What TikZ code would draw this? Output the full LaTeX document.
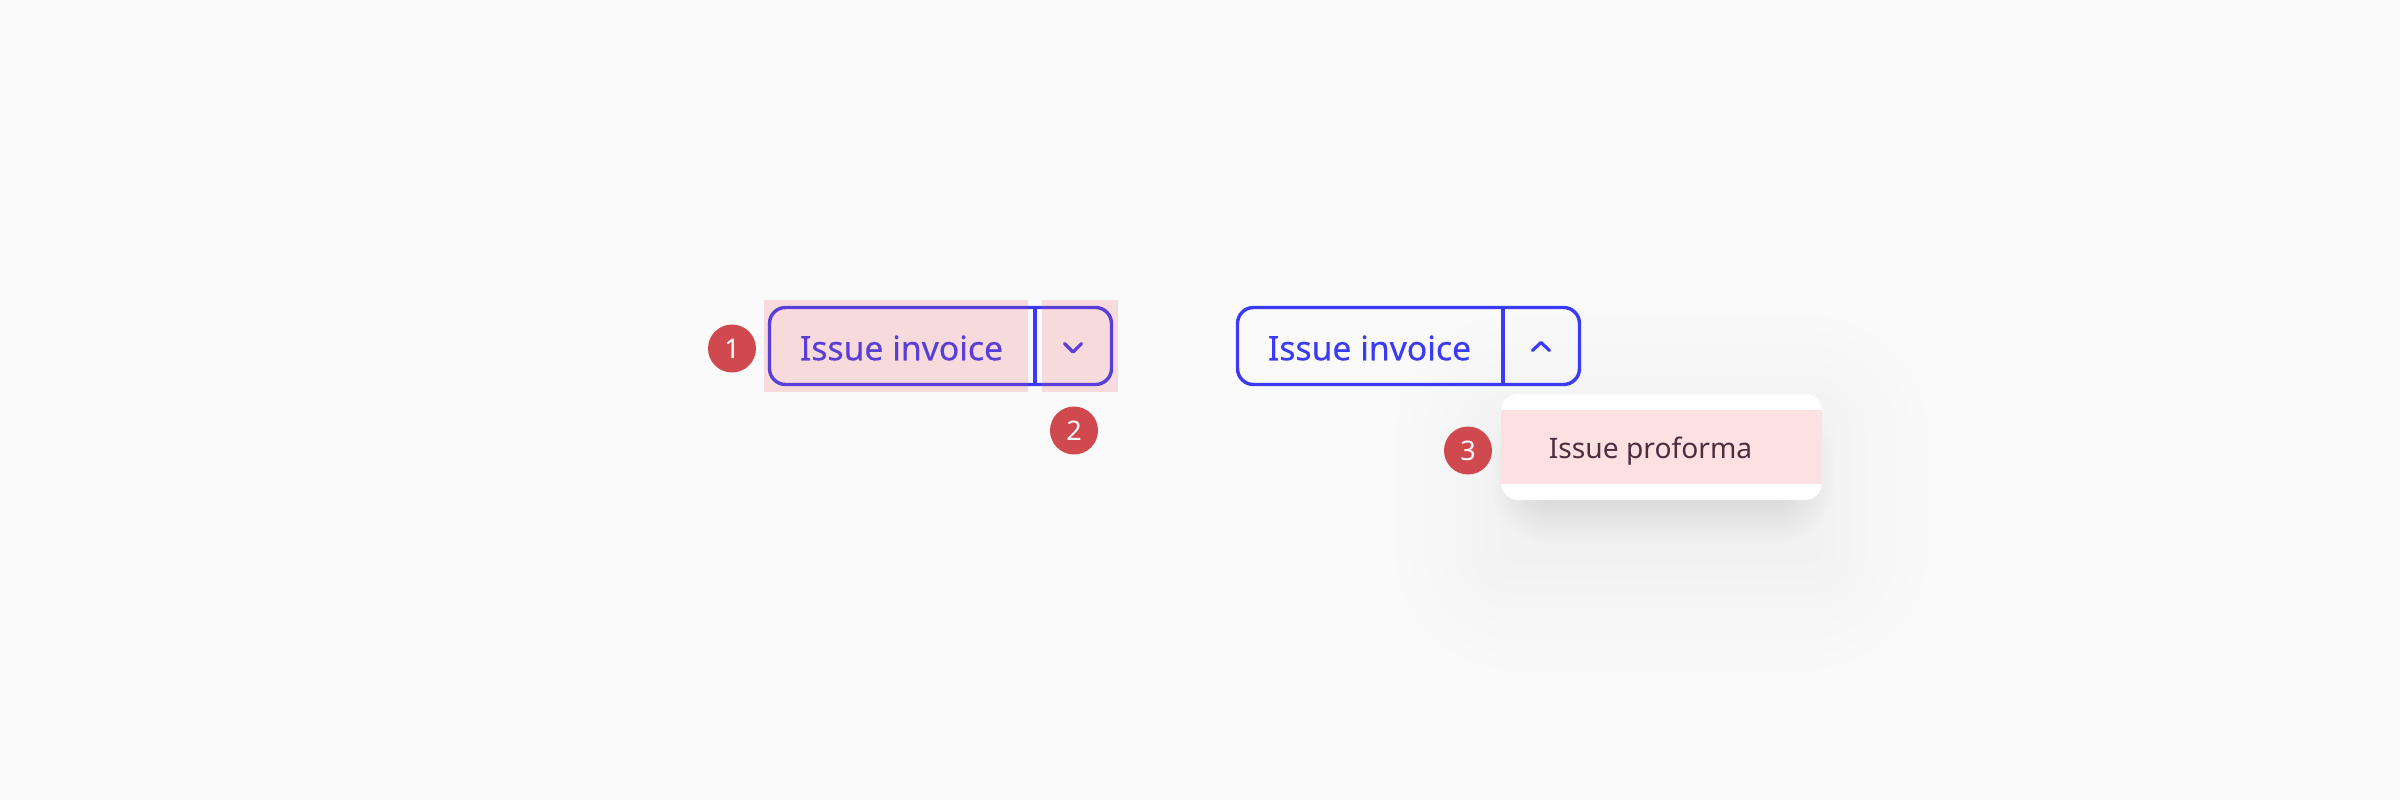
\documentclass[tikz,border=0pt]{standalone}
\usepackage{fontspec}
\setmainfont{Noto Sans}
\newfontfamily\btnfont[RawFeature={embolden=0.35}]{Noto Sans}
\usetikzlibrary{positioning}
\definecolor{pagecolor}{RGB}{250,250,250}
\definecolor{linkcolor}{RGB}{59,59,245}
\definecolor{markcolor}{RGB}{231,76,87}
\definecolor{badgecolor}{RGB}{208,73,79}
\definecolor{rowcolor}{RGB}{252,224,226}
\definecolor{rowtext}{RGB}{74,47,62}

\begin{document}
\begin{tikzpicture}[
    x=1pt, y=-1pt,
    splitbox/.style={draw=linkcolor, line width=3.4pt, rounded corners=16pt, inner sep=0pt, outer sep=0pt, minimum width=342pt, minimum height=77pt},
    btnlabel/.style={text=linkcolor, inner sep=0pt, font=\btnfont\fontsize{33.7}{36}\selectfont},
    divider/.style={draw=linkcolor, line width=3.4pt},
    chevron/.style={draw=linkcolor, line width=3.2pt, line cap=round, line join=round},
    markbox/.style={fill=markcolor, fill opacity=0.18, inner sep=0pt, outer sep=0pt, minimum height=92pt},
    badge/.style={circle, fill=badgecolor, text=white, inner sep=0pt, minimum size=48pt, font=\fontsize{27}{30}\selectfont},
    menubox/.style={fill=white, rounded corners=17pt, inner sep=0pt, minimum width=321pt, minimum height=106pt},
    menurow/.style={fill=rowcolor, inner sep=0pt, minimum width=321pt, minimum height=74pt}
]
    \fill[pagecolor] (0,0) rectangle (2400,800);
    \useasboundingbox (0,0) rectangle (2400,800);

    % soft shadow of the menu
    \foreach \d in {0,15,...,105}
        \fill[black, opacity=0.004, rounded corners={16pt+\d pt}] (1500-\d,420-\d) rectangle (1822+\d,565+\d);
    \foreach \d in {0,4,...,44}
        \fill[black, opacity=0.0075, rounded corners={16pt+\d pt}] (1535-\d,440-\d) rectangle (1790+\d,500+\d);

    % closed button
    \node[splitbox] (btnA) at (940.5,346) {};
    \coordinate (divA) at (1035,346);
    \draw[divider] (btnA.north -| divA) -- (btnA.south -| divA);
    \node[btnlabel] (labelA) at (901.5,348) {Issue invoice};
    \coordinate (chevA) at (1073,352);
    \draw[chevron] (chevA) ++(-8.5,-8.5) -- ++(8.5,8.5) -- ++(8.5,-8.5);
    \node[markbox, minimum width=264pt] (markA) at (896,346) {};
    \node[markbox, minimum width=76pt] (markB) at (1080,346) {};

    % open button
    \node[splitbox] (btnB) at (1408.5,346) {};
    \coordinate (divB) at (1503,346);
    \draw[divider] (btnB.north -| divB) -- (btnB.south -| divB);
    \node[btnlabel] (labelB) at (1369.5,348) {Issue invoice};
    \coordinate (chevB) at (1541,342.5);
    \draw[chevron] (chevB) ++(-8.5,8) -- ++(8.5,-8) -- ++(8.5,8);

    % menu
    \node[menubox] (menu) at (1661.5,447) {};
    \node[menurow] (row) at (1661.5,447) {};
    \node[inner sep=0pt, text=rowtext, font=\fontsize{28.2}{32}\selectfont] (rowlabel) at (1650.5,451) {Issue proforma};

    % badges
    \node[badge] (badgeA) at (732,348.5) {1};
    \node[badge] (badgeB) at (1074,430.5) {2};
    \node[badge] (badgeC) at (1468,450.5) {3};
\end{tikzpicture}
\end{document}
